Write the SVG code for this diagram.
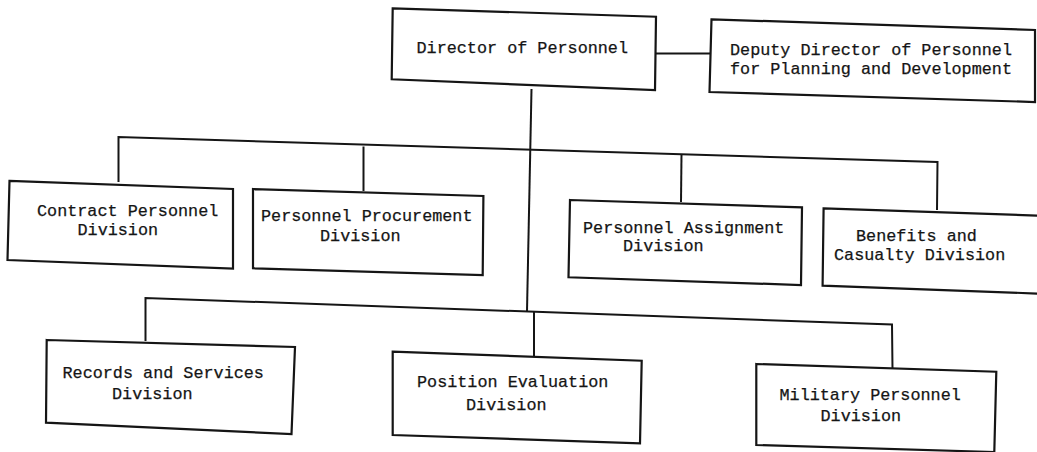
<svg xmlns="http://www.w3.org/2000/svg" width="1037" height="452" viewBox="0 0 1037 452">
<style>
  .box { fill: #ffffff; stroke: #151515; stroke-width: 2.2; stroke-linejoin: miter; }
  .conn { fill: none; stroke: #151515; stroke-width: 2; stroke-linejoin: miter; }
  .t { font-family: "Liberation Mono", "DejaVu Sans Mono", monospace; font-size: 16.8px; fill: #151515; stroke: #151515; stroke-width: 0.25; }
</style>
<rect width="1037" height="452" fill="#ffffff"/>
<g id="connectors">
  <path class="conn" d="M655,53.5 L711,53.5"/>
  <path class="conn" d="M531.5,89 L527,311"/>
  <path class="conn" d="M118.5,182 L118.5,137 L937.5,162 L937,210"/>
  <path class="conn" d="M363.5,146.5 L363.5,191"/>
  <path class="conn" d="M681.5,154 L681,202"/>
  <path class="conn" d="M145.5,341 L145.5,298 L892,324.5 L892.5,369"/>
  <path class="conn" d="M534,311.5 L534,356"/>
</g>
<g id="director">
  <polygon class="box" points="392.7,8.3 656,16.7 655,90 391.7,79.3"/>
  <text class="t" x="416.5" y="52.7">Director of Personnel</text>
</g>
<g id="deputy">
  <polygon class="box" points="711.5,19.3 1035,30 1035,102 709.5,92"/>
  <text class="t" x="730" y="55">Deputy Director of Personnel</text>
  <text class="t" x="730" y="74">for Planning and Development</text>
</g>
<g id="contract">
  <polygon class="box" points="9.5,180.8 233,189 233,268.5 7.5,260"/>
  <text class="t" x="37" y="216">Contract Personnel</text>
  <text class="t" x="77.5" y="234.5">Division</text>
</g>
<g id="procurement">
  <polygon class="box" points="253,189 483.4,196 482.7,275 253,268.3"/>
  <text class="t" x="261" y="221">Personnel Procurement</text>
  <text class="t" x="320" y="241">Division</text>
</g>
<g id="assignment">
  <polygon class="box" points="570,200 802,207.3 801,285 568.5,277.3"/>
  <text class="t" x="583" y="232.7">Personnel Assignment</text>
  <text class="t" x="623" y="250.7">Division</text>
</g>
<g id="benefits">
  <polygon class="box" points="823.6,208.3 1050,216 1050,294 822.6,285.7"/>
  <text class="t" x="856" y="240.7">Benefits and</text>
  <text class="t" x="834" y="260">Casualty Division</text>
</g>
<g id="records">
  <polygon class="box" points="46.7,340 295,347 291.5,434 46,422.7"/>
  <text class="t" x="62.5" y="378.3">Records and Services</text>
  <text class="t" x="112" y="399.3">Division</text>
</g>
<g id="position">
  <polygon class="box" points="392.7,351.7 641.7,360.7 640,443.3 392.7,435"/>
  <text class="t" x="417" y="387.3">Position Evaluation</text>
  <text class="t" x="466" y="410">Division</text>
</g>
<g id="military">
  <polygon class="box" points="756.3,364 996.3,371.7 994.3,452 756.3,445"/>
  <text class="t" x="779.5" y="400">Military Personnel</text>
  <text class="t" x="820.5" y="421">Division</text>
</g>
</svg>
